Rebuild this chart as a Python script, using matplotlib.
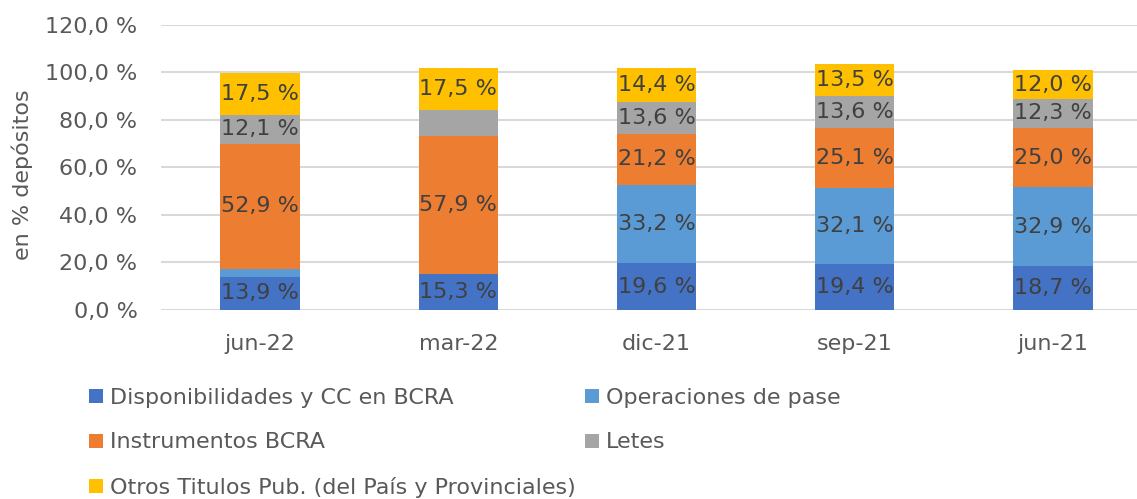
import matplotlib
matplotlib.use("Agg")
import matplotlib.pyplot as plt
import numpy as np

# datos (% de depositos)
periodos = ["jun-22", "mar-22", "dic-21", "sep-21", "jun-21"]
disponibilidades = [13.9, 15.3, 19.6, 19.4, 18.7]
pases = [3.3, 0.0, 33.2, 32.1, 32.9]
instrumentos = [52.9, 57.9, 21.2, 25.1, 25.0]
letes = [12.1, 11.0, 13.6, 13.6, 12.3]
otros = [17.5, 17.5, 14.4, 13.5, 12.0]

series = [
    ("Disponibilidades y CC en BCRA", disponibilidades, "#4472C4"),
    ("Operaciones de pase", pases, "#5B9BD5"),
    ("Instrumentos BCRA", instrumentos, "#ED7D31"),
    ("Letes", letes, "#A5A5A5"),
    ("Otros Titulos Pub. (del País y Provinciales)", otros, "#FFC000"),
]

plt.rcParams["font.family"] = ["DejaVu Sans"]

fmt = lambda v: f"{v:.1f}".replace(".", ",") + " %"

fig = plt.figure(figsize=(11.37, 4.99), dpi=100)
ax = fig.add_axes([0.1416, 0.3788, 0.8716, 0.5711])

x = np.arange(len(periodos))
base = np.zeros(len(periodos))
handles = {}
for nombre, vals, color in series:
    vals = np.array(vals)
    bars = ax.bar(x, vals, 0.4, bottom=base, color=color, label=nombre, zorder=3)
    handles[nombre] = bars
    for xi, b, v in zip(x, base, vals):
        if v >= 12:  # los segmentos chicos no tienen etiqueta
            ax.text(xi, b + v / 2, fmt(v), ha="center", va="center",
                    fontsize=16, color="#404040", zorder=4)
    base += vals

ax.set_ylim(0, 120)
ax.set_xlim(-0.5, len(periodos) - 0.5)
ax.set_yticks(np.arange(0, 121, 20))
ax.set_yticklabels([fmt(t) for t in np.arange(0, 121, 20)])
ax.set_xticks(x)
ax.set_xticklabels(periodos)
ax.tick_params(axis="both", length=0, labelsize=16, colors="#595959")
ax.tick_params(axis="x", pad=17)
ax.tick_params(axis="y", pad=17)
ax.grid(axis="y", color="#D9D9D9", linewidth=1.5, zorder=0)
for s in ax.spines.values():
    s.set_visible(False)

fig.text(0.02, 0.649, "en % depósitos", rotation=90, ha="center", va="center",
         fontsize=16, color="#595959")

# leyenda en dos columnas, colocadas a mano
col1 = ["Disponibilidades y CC en BCRA", "Instrumentos BCRA",
        "Otros Titulos Pub. (del País y Provinciales)"]
col2 = ["Operaciones de pase", "Letes"]
for nombres, x0 in [(col1, 89 / 1137), (col2, 585 / 1137)]:
    leg = fig.legend([handles[n] for n in nombres], nombres,
                     loc="upper left", bbox_to_anchor=(x0, 0.2225),
                     frameon=False, fontsize=16, borderpad=0, borderaxespad=0,
                     handlelength=0.63, handleheight=0.6, handletextpad=0.3,
                     labelspacing=1.1)
    for t in leg.get_texts():
        t.set_color("#595959")

fig.savefig("out.png", dpi=100)
